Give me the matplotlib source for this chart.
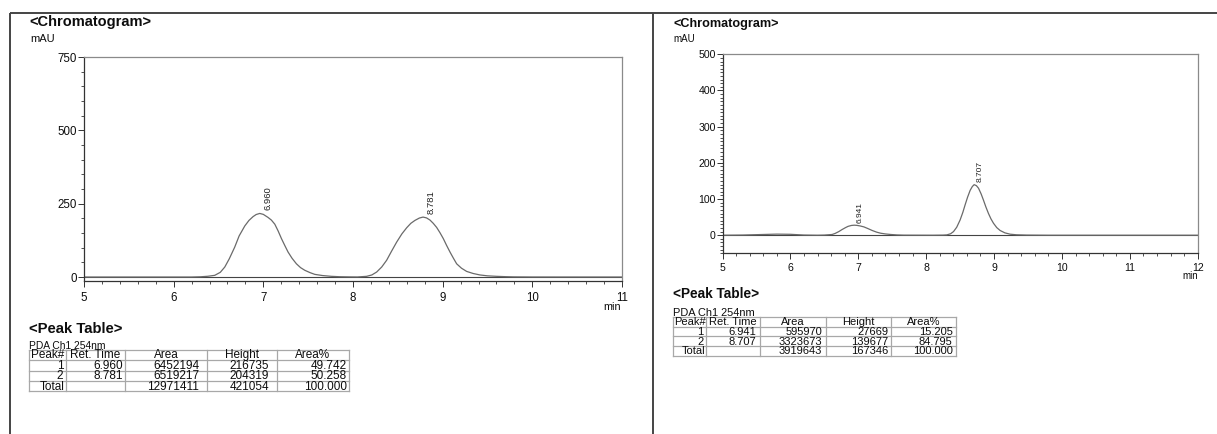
import matplotlib
matplotlib.use("Agg")
import matplotlib.pyplot as plt
from matplotlib.ticker import MultipleLocator

plt.rcParams['font.family'] = ['Liberation Sans', 'DejaVu Sans']

# ---------------- data ----------------
# Left report: chromatogram trace (min, mAU)
left_time = [5.00, 6.20, 6.30, 6.38, 6.458, 6.52, 6.57, 6.62, 6.681, 6.73, 6.793, 6.84,
             6.886, 6.92, 6.960, 7.00, 7.053, 7.09, 7.128, 7.165, 7.202, 7.24, 7.276,
             7.32, 7.369, 7.415, 7.462, 7.52, 7.574, 7.66, 7.759, 7.85, 7.946, 8.05,
             8.152, 8.21, 8.264, 8.32, 8.375, 8.43, 8.487, 8.545, 8.599, 8.645, 8.691,
             8.74, 8.781, 8.82, 8.859, 8.895, 8.933, 8.97, 9.007, 9.045, 9.082, 9.12,
             9.156, 9.21, 9.268, 9.34, 9.416, 9.50, 9.602, 9.70, 9.79, 10.0, 11.0]
left_signal = [0.0, 0.0, 0.8, 2.5, 5.7, 16, 34, 62, 102, 140, 174, 193,
               206, 213, 216.7, 213.5, 203, 194, 180, 157, 131, 107, 85,
               64, 45, 32, 23, 15, 9, 5, 2.3, 1.0, 0.5, 0.2,
               2.3, 7, 17, 34, 57, 88, 119, 147, 168, 183, 193,
               201, 204.3, 201.5, 194, 183, 169, 151, 131, 107, 85, 64,
               45, 30, 19, 12, 7, 4, 2.3, 1.2, 0.5, 0.1, 0.0]

# Right report: chromatogram trace (min, mAU)
right_time = [5.00, 5.30, 5.60, 5.80, 6.00, 6.20, 6.40, 6.50, 6.615, 6.66, 6.713, 6.76,
              6.812, 6.85, 6.90, 6.941, 6.98, 7.03, 7.083, 7.14, 7.206, 7.27, 7.33,
              7.40, 7.478, 7.57, 7.67, 8.10, 8.25, 8.304, 8.36, 8.403, 8.45, 8.50,
              8.54, 8.574, 8.61, 8.648, 8.68, 8.707, 8.74, 8.771, 8.81, 8.844, 8.88,
              8.918, 8.955, 8.992, 9.04, 9.09, 9.16, 9.237, 9.33, 9.48, 9.80, 12.0]
right_signal = [0.0, 0.5, 2.0, 3.0, 2.5, 0.5, 0.0, 0.4, 2.0, 5, 10, 15.5,
                21, 24.5, 27, 27.7, 27.2, 25.5, 23, 18.5, 13, 8.5, 5.5,
                3.5, 2.0, 0.8, 0.2, 0.0, 0.3, 0.9, 4, 10, 22, 42,
                63, 84, 105, 124, 134.5, 139.7, 137, 130, 114, 97, 78,
                60, 45, 33, 21, 13, 6.5, 2.8, 1.2, 0.4, 0.0, 0.0]

# Peak tables
left_peak_no = ['1', '2']
left_ret_time = [6.960, 8.781]
left_area = [6452194, 6519217]
left_height = [216735, 204319]
left_area_pct = [49.742, 50.258]
left_total = ['', '12971411', '421054', '100.000']

right_peak_no = ['1', '2']
right_ret_time = [6.941, 8.707]
right_area = [595970, 3323673]
right_height = [27669, 139677]
right_area_pct = [15.205, 84.795]
right_total = ['', '3919643', '167346', '100.000']

table_header = ['Peak#', 'Ret. Time', 'Area', 'Height', 'Area%']
left_xticks = [5, 6, 7, 8, 9, 10, 11]
left_yticks = [0, 250, 500, 750]
right_xticks = [5, 6, 7, 8, 9, 10, 11, 12]
right_yticks = [0, 100, 200, 300, 400, 500]

# ---------------- figure ----------------
W, H = 1217, 434
fig = plt.figure(figsize=(W / 100, H / 100), dpi=100)
fig.patch.set_facecolor('white')

P = 0.72  # points per pixel at 100 dpi
TXT = '#0d0d0d'


def axes_from_px(x0, y0, x1, y1):
    return fig.add_axes([x0 / W, 1 - y1 / H, (x1 - x0) / W, (y1 - y0) / H])


def style_chart(ax, xlim, ylim, xticks, yticks, yminor, fs, xpad, ypad):
    ax.set_xlim(*xlim)
    ax.set_ylim(*ylim)
    ax.set_xticks(xticks)
    ax.set_yticks(yticks)
    ax.xaxis.set_minor_locator(MultipleLocator(0.2))
    ax.yaxis.set_minor_locator(MultipleLocator(yminor))
    for s in ['left', 'bottom']:
        ax.spines[s].set_color('#333333')
        ax.spines[s].set_linewidth(0.9)
    for s in ['top', 'right']:
        ax.spines[s].set_color('#8a8a8a')
        ax.spines[s].set_linewidth(0.9)
    ax.tick_params(which='major', direction='out', length=6 * P, width=0.7,
                   color='#333333', labelsize=fs, labelcolor=TXT)
    ax.tick_params(which='minor', direction='out', length=3.2 * P, width=0.6,
                   color='#333333')
    ax.tick_params(axis='x', which='major', pad=xpad)
    ax.tick_params(axis='y', which='major', pad=ypad)
    ax.axhline(0, color='#444444', lw=0.8, zorder=1)


# Left chromatogram
axL = axes_from_px(84, 57, 622, 281)
style_chart(axL, (5, 11), (-13.6, 750), left_xticks, left_yticks, 50, 8.3, 3.4, 0.6)
axL.plot(left_time, left_signal, color='#6a6a6a', lw=0.9, zorder=2)
for t, h in zip(left_ret_time, left_height):
    axL.annotate(f'{t:.3f}', xy=(t, h / 1000), xytext=(4 * P, 3 * P),
                 textcoords='offset points', rotation=90, ha='left', va='bottom',
                 fontsize=6.8, color='#222222')

# Right chromatogram
axR = axes_from_px(722.5, 54.3, 1197.7, 253.3)
style_chart(axR, (5, 12), (-50, 500), right_xticks, right_yticks, 10, 7.6, 2.4, 0.5)
axR.plot(right_time, right_signal, color='#6a6a6a', lw=0.9, zorder=2)
for t, h in zip(right_ret_time, right_height):
    axR.annotate(f'{t:.3f}', xy=(t, h / 1000), xytext=(2.5 * P, 2.2 * P),
                 textcoords='offset points', rotation=90, ha='left', va='bottom',
                 fontsize=6.0, color='#222222')

# Overlay in pixel coordinates for frames, headings and tables
ov = fig.add_axes([0, 0, 1, 1], zorder=-1)
ov.set_xlim(0, W)
ov.set_ylim(H, 0)
ov.axis('off')

# page frame
ov.plot([10, W], [13, 13], color='#444444', lw=1.4, solid_capstyle='butt')
ov.plot([10, 10], [13, H], color='#444444', lw=1.4, solid_capstyle='butt')
ov.plot([652.5, 652.5], [13, H], color='#444444', lw=1.4, solid_capstyle='butt')

# headings
ov.text(29.3, 25.7, '<Chromatogram>', fontsize=10.5, fontweight='bold', va='baseline', color=TXT)
ov.text(30.5, 42.3, 'mAU', fontsize=8.0, va='baseline', color=TXT)
ov.text(621, 310, 'min', fontsize=7.8, ha='right', va='baseline', color=TXT)

ov.text(673.3, 27.3, '<Chromatogram>', fontsize=9.1, fontweight='bold', va='baseline', color=TXT)
ov.text(673.3, 42.3, 'mAU', fontsize=7.0, va='baseline', color=TXT)
ov.text(1198, 279, 'min', fontsize=7.0, ha='right', va='baseline', color=TXT)


def draw_table(title_xy, title_fs, sub_xy, sub_fs, cols, rows, fs, pads,
               peak_no, ret, area, height, pct, total):
    ov.text(title_xy[0], title_xy[1], '<Peak Table>', fontsize=title_fs,
            fontweight='bold', va='baseline', color=TXT)
    ov.text(sub_xy[0], sub_xy[1], 'PDA Ch1 254nm', fontsize=sub_fs,
            va='baseline', color=TXT)
    for y in rows:
        ov.plot([cols[0], cols[-1]], [y, y], color='#a8a8a8', lw=0.9)
    for x in cols:
        ov.plot([x, x], [rows[0], rows[-1]], color='#a8a8a8', lw=0.9)
    body = [[n, f'{r:.3f}', f'{a}', f'{h}', f'{p:.3f}']
            for n, r, a, h, p in zip(peak_no, ret, area, height, pct)]
    body.append(['Total'] + total)
    for j, txt in enumerate(table_header):
        ov.text((cols[j] + cols[j + 1]) / 2, (rows[0] + rows[1]) / 2 + 0.4, txt,
                fontsize=fs, ha='center', va='center', color=TXT)
    for i, row in enumerate(body):
        yc = (rows[i + 1] + rows[i + 2]) / 2 + 0.4
        for j, txt in enumerate(row):
            pad = 1.0 if txt == 'Total' else pads[j]
            ov.text(cols[j + 1] - pad, yc, txt, fontsize=fs, ha='right',
                    va='center', color=TXT)


draw_table((29.3, 332.7), 10.7, (29.3, 349.3), 7.4,
           [29.3, 66, 125, 206.7, 276.7, 349.3],
           [349.8, 360.2, 370.7, 381.0, 391.3], 8.5,
           [2.7, 1.5, 7.5, 7.5, 2.6],
           left_peak_no, left_ret_time, left_area, left_height, left_area_pct, left_total)

draw_table((673.3, 298.3), 9.8, (673.3, 316.0), 7.9,
           [673.3, 706, 760, 825.7, 890.7, 956],
           [317.0, 326.7, 336.3, 346.0, 355.7], 8.0,
           [2.7, 4.0, 3.3, 2.7, 3.3],
           right_peak_no, right_ret_time, right_area, right_height, right_area_pct, right_total)

fig.savefig('out.png', dpi=100, facecolor='white')
